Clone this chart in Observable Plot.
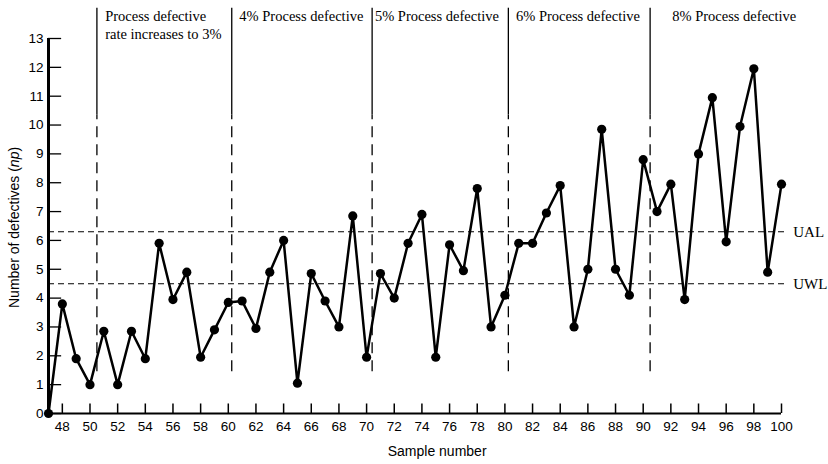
<!DOCTYPE html>
<html>
<head>
<meta charset="utf-8">
<script src="https://cdn.jsdelivr.net/npm/d3@7"></script>
<script src="https://cdn.jsdelivr.net/npm/@observablehq/plot@0.6"></script>
<style>
  html, body { margin: 0; padding: 0; background: #fff; }
  #chart svg { display: block; }
</style>
</head>
<body>
<div id="chart"></div>
<script>
// Sample numbers and number of defectives (np)
const samples = [47, 48, 49, 50, 51, 52, 53, 54, 55, 56, 57, 58, 59, 60, 61, 62, 63, 64, 65, 66,
  67, 68, 69, 70, 71, 72, 73, 74, 75, 76, 77, 78, 79, 80, 81, 82, 83, 84, 85, 86,
  87, 88, 89, 90, 91, 92, 93, 94, 95, 96, 97, 98, 99, 100];
const defectives = [0, 3.8, 1.9, 1.0, 2.85, 1.0, 2.85, 1.9, 5.9, 3.95, 4.9, 1.95, 2.9, 3.85, 3.9, 2.95, 4.9, 6.0, 1.05, 4.85,
  3.9, 3.0, 6.85, 1.95, 4.85, 4.0, 5.9, 6.9, 1.95, 5.85, 4.95, 7.8, 3.0, 4.1, 5.9, 5.9, 6.95, 7.9, 3.0, 5.0,
  9.85, 5.0, 4.1, 8.8, 7.0, 7.95, 3.95, 9.0, 10.95, 5.95, 9.95, 11.95, 4.9, 7.95];

// Tick labels
const xTicks = [48, 50, 52, 54, 56, 58, 60, 62, 64, 66, 68, 70, 72, 74, 76, 78, 80, 82, 84, 86, 88, 90, 92, 94, 96, 98, 100];
const yTicks = [0, 1, 2, 3, 4, 5, 6, 7, 8, 9, 10, 11, 12, 13];

// Control limits
const limitNames = ["UAL", "UWL"];
const limitValues = [6.3, 4.5];

// Process change points (sample number where the defective rate shifts) and their annotations
const changeSamples = [50.5, 60.25, 70.4, 80.25, 90.5];
const changeLabels = ["Process defective\nrate increases to 3%", "4% Process defective", "5% Process defective",
  "6% Process defective", "8% Process defective"];
const changeLabelSamples = [51.1, 60.8, 70.6, 80.8, 92.1];

const points = samples.map((s, i) => ({sample: s, np: defectives[i]}));
const limits = limitNames.map((n, i) => ({name: n, value: limitValues[i]}));
const changes = changeSamples.map((s, i) => ({sample: s, label: changeLabels[i], labelAt: changeLabelSamples[i]}));

const serif = "'Liberation Serif', 'DejaVu Serif', serif";
const sans = "'Liberation Sans', 'DejaVu Sans', sans-serif";

const chart = Plot.plot({
  width: 828,
  height: 464,
  marginLeft: 48,
  marginRight: 47,
  marginTop: 38,
  marginBottom: 51,
  x: {domain: [47, 100], axis: null},
  y: {domain: [0, 13], axis: null},
  style: {background: "#fff", color: "#000", fontFamily: sans, fontSize: "13px"},
  marks: [
    // control limit lines
    Plot.ruleY(limits, {y: "value", x1: 47, x2: 100.3, stroke: "#000", strokeWidth: 1.1, strokeDasharray: "6,4"}),
    Plot.text(limits, {x: 100.85, y: "value", text: "name", textAnchor: "start", fontFamily: serif, fontSize: 15}),
    // process change lines: solid at top, dashed below
    Plot.ruleX(changes, {x: "sample", y1: 10.35, y2: 14.05, stroke: "#000", strokeWidth: 1.3}),
    Plot.ruleX(changes, {x: "sample", y1: 1.45, y2: 10.35, stroke: "#000", strokeWidth: 1.3, strokeDasharray: "11,7"}),
    Plot.text(changes, {x: "labelAt", y: 14.05, text: "label", textAnchor: "start", lineAnchor: "top",
      lineHeight: 1.25, fontFamily: serif, fontSize: 14.5}),
    // axes
    Plot.ruleX([47], {y1: 0, y2: 13, stroke: "#000", strokeWidth: 3}),
    Plot.ruleY([0], {x1: 47, x2: 100, stroke: "#000", strokeWidth: 2}),
    Plot.ruleY(yTicks, {y: d => d, x1: 47, x2: 47.95, stroke: "#000", strokeWidth: 1.3}),
    Plot.ruleX(xTicks, {x: d => d, y1: 0, y2: 0.33, stroke: "#000", strokeWidth: 1.5}),
    Plot.axisY(yTicks, {tickSize: 0, tickPadding: 5, label: null, fontSize: 13.5, fontFamily: sans}),
    Plot.axisX(xTicks, {tickSize: 0, tickPadding: 8, label: null, fontSize: 13.5, fontFamily: sans}),
    Plot.text(["Sample number"], {x: 75.1, frameAnchor: "bottom", dy: 42, text: d => d, fontSize: 14, fontFamily: sans}),
    Plot.text(["Number of defectives (np)"], {x: 47, y: 6.45, dx: -34, rotate: -90, text: d => d, fontSize: 14, fontFamily: sans}),
    // data
    Plot.line(points, {x: "sample", y: "np", stroke: "#000", strokeWidth: 2.5, strokeLinejoin: "round"}),
    Plot.dot(points, {x: "sample", y: "np", r: 4.6, fill: "#000", stroke: "none"})
  ]
});

d3.select(chart).selectAll("text").each(function() {
  if (this.textContent === "Number of defectives (np)") {
    this.innerHTML = 'Number of defectives (<tspan font-style="italic">np</tspan>)';
  }
});

document.getElementById("chart").appendChild(chart);
</script>
</body>
</html>
